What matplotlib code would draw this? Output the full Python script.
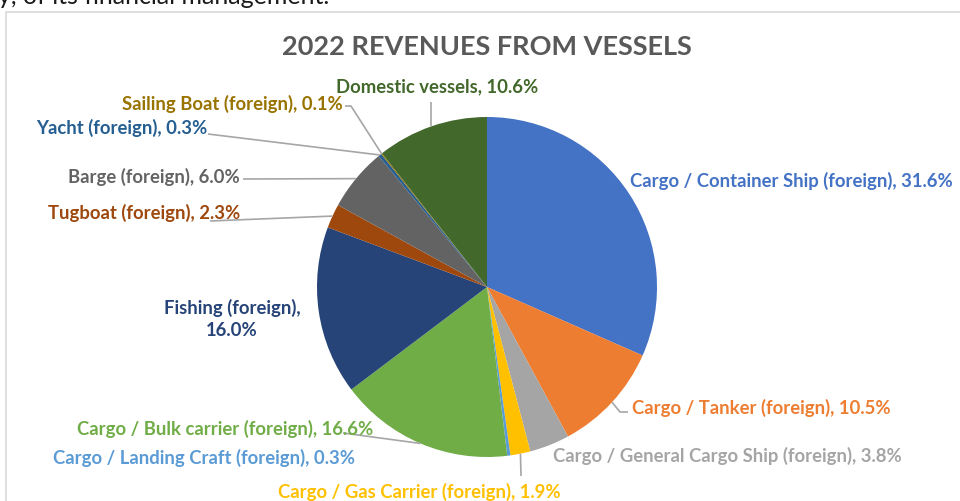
import matplotlib
matplotlib.use("Agg")
import matplotlib.pyplot as plt
import numpy as np
from matplotlib.patches import Rectangle

categories = [
    "Cargo / Container Ship (foreign)",
    "Cargo / Tanker (foreign)",
    "Cargo / General Cargo Ship (foreign)",
    "Cargo / Gas Carrier (foreign)",
    "Cargo / Landing Craft (foreign)",
    "Cargo / Bulk carrier (foreign)",
    "Fishing (foreign)",
    "Tugboat (foreign)",
    "Barge (foreign)",
    "Yacht (foreign)",
    "Sailing Boat (foreign)",
    "Domestic vessels",
]
shares = [31.6, 10.5, 3.8, 1.9, 0.3, 16.6, 16.0, 2.3, 6.0, 0.3, 0.1, 10.6]
colors = ["#4472C4", "#ED7D31", "#A5A5A5", "#FFC000", "#5B9BD5", "#70AD47",
          "#264478", "#9E480E", "#636363", "#255E91", "#997300", "#43682B"]
title = "2022 REVENUES FROM VESSELS"

W, H = 960, 502
FONT = ["Lato", "DejaVu Sans"]
plt.rcParams["font.family"] = FONT

fig = plt.figure(figsize=(W / 100, H / 100), dpi=100)
ax = fig.add_axes([0, 0, 1, 1])

def Y(y):
    return H - y

cx, cy, R = 487, Y(288), 170
wedges, _ = ax.pie(shares, colors=colors, startangle=90, counterclock=False,
                   center=(cx, cy), radius=R, wedgeprops=dict(linewidth=0))
ax.set_xlim(0, W)
ax.set_ylim(0, H)
ax.set_aspect("auto")
ax.axis("off")

def anchor(i):
    w = wedges[i]
    t = np.deg2rad((w.theta1 + w.theta2) / 2)
    return cx + R * np.cos(t), cy + R * np.sin(t)

# frame and cropped text at top
ax.add_patch(Rectangle((6, -5), W, Y(13) + 5, fill=False, edgecolor="#D9D9D9", lw=1.2))
ax.text(-2, Y(4), "y, of its financial management.", fontsize=18, color="#1a1a1a",
        ha="left", va="baseline", family=["Lato", "DejaVu Sans"])

ax.text(487, Y(47), title, fontsize=19.5, fontweight="bold", color="#595959",
        ha="center", va="center")

FS = 13.3
lc = "#A6A6A6"

def lab(i, x, y, ha, text=None):
    t = text if text is not None else f"{categories[i]}, {shares[i]:.1f}%"
    ax.text(x, Y(y), t, fontsize=FS, fontweight="bold", color=colors[i],
            ha=ha, va="center", linespacing=1.4)

def leader(i, pts):
    ax_, ay_ = anchor(i)
    xs = [p[0] for p in pts] + [ax_]
    ys = [Y(p[1]) for p in pts] + [ay_]
    ax.plot(xs, ys, color=lc, lw=1.2, solid_capstyle="butt")

# labels
lab(0, 630, 181, "left")
lab(1, 632, 408, "left")
leader(1, [(628, 413), (620, 413)])
lab(2, 553, 456, "left")
lab(3, 419, 492, "center")
leader(3, [(521, 477)])
lab(4, 355, 458, "right")
lab(5, 373, 429, "right")
leader(5, [(343, 434)])
lab(6, 232, 319, "center", text=f"{categories[6]},\n{shares[6]:.1f}%")
lab(7, 240, 213, "right")
leader(7, [(210, 222)])
lab(8, 240, 177, "right")
leader(8, [(243, 180)])
lab(9, 207, 128, "right")
leader(9, [(208, 135)])
lab(10, 343, 104, "right")
leader(10, [(345, 107), (351, 107)])
lab(11, 437, 87, "center")
leader(11, [(anchor(11)[0], 103)])

fig.savefig("out.png", dpi=100)
